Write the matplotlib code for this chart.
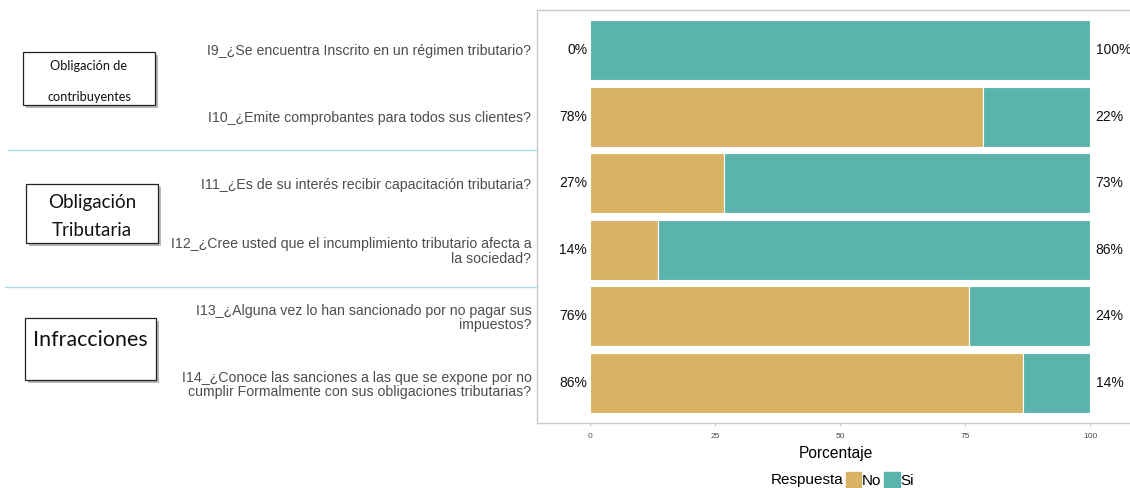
import matplotlib.pyplot as plt
from matplotlib.patches import Rectangle, Patch
import matplotlib.patheffects as pe

plt.rcParams['font.family'] = ['Liberation Sans', 'DejaVu Sans']

preguntas = [
    'I9_¿Se encuentra Inscrito en un régimen tributario?',
    'I10_¿Emite comprobantes para todos sus clientes?',
    'I11_¿Es de su interés recibir capacitación tributaria?',
    'I12_¿Cree usted que el incumplimiento tributario afecta a\nla sociedad?',
    'I13_¿Alguna vez lo han sancionado por no pagar sus\nimpuestos?',
    'I14_¿Conoce las sanciones a las que se expone por no\ncumplir Formalmente con sus obligaciones tributarias?',
]
pct_no = [0, 78.6, 26.8, 13.6, 75.8, 86.6]
pct_si = [100 - v for v in pct_no]
lbl_no = ['0%', '78%', '27%', '14%', '76%', '86%']
lbl_si = ['100%', '22%', '73%', '86%', '24%', '14%']
grupos = ['Obligación de\ncontribuyentes', 'Obligación\nTributaria', 'Infracciones\n ']

c_no = '#D8B365'
c_si = '#5AB4AC'

W, H = 1130, 488
fig = plt.figure(figsize=(W / 100, H / 100), dpi=100)
ax = fig.add_axes([537 / W, 1 - 423 / H, (W - 537) / W, (423 - 10) / H])

y = [len(preguntas) - 1 - i for i in range(len(preguntas))]
ax.barh(y, pct_no, height=0.9, color=c_no, edgecolor='white', linewidth=0.8)
ax.barh(y, pct_si, left=pct_no, height=0.9, color=c_si, edgecolor='white', linewidth=0.8)

for yi, a, b in zip(y, lbl_no, lbl_si):
    ax.annotate(a, (0, yi), xytext=(-2, 0), textcoords='offset points',
                ha='right', va='center', fontsize=10, color='#111111')
    ax.annotate(b, (100, yi), xytext=(4, 0), textcoords='offset points',
                ha='left', va='center', fontsize=10, color='#111111')

# 0 en x=590 px, 100 en x=1090 px
ax.set_xlim(-10.6, 108)
ax.set_ylim(-0.6, len(preguntas) - 0.4)
ax.set_yticks(y)
ax.set_yticklabels(preguntas, fontsize=10.2, color='#4D4D4D', multialignment='right',
                   linespacing=1.02)
ax.tick_params(axis='y', length=0, pad=4)
ax.set_xticks([0, 25, 50, 75, 100])
ax.tick_params(axis='x', labelsize=6, labelcolor='#4D4D4D', color='#CCCCCC', length=2.5, pad=5)
ax.set_xlabel('Porcentaje', fontsize=11.2, labelpad=5)
ax.xaxis.set_label_coords((836 - 537) / (W - 537), -0.055)
for s in ax.spines.values():
    s.set_color('#C8C8C8')
    s.set_linewidth(1)
ax.spines['right'].set_visible(False)

# separadores
for ys, x0 in [(150, 8), (287, 5)]:
    fig.add_artist(plt.Line2D([x0 / W, 537 / W], [1 - ys / H] * 2, color='#A9DCE8', lw=1))

# cajas de grupo: x, y, ancho, alto, tamaño, interlineado, desplazamiento del texto
cajas = [(23, 52, 132, 53, 9.2, 2.9, 3), (26, 184, 132, 59, 13.5, 1.75, 3), (25, 318, 131, 62, 15.4, 1.2, 3)]
for (x0, y0, w, h, fs, ls, dy), txt in zip(cajas, grupos):
    r = Rectangle((x0 / W, 1 - (y0 + h) / H), w / W, h / H, transform=fig.transFigure,
                  facecolor='white', edgecolor='#222222', lw=0.9,
                  path_effects=[pe.SimplePatchShadow(offset=(2, -2), shadow_rgbFace='#888888', alpha=0.6), pe.Normal()])
    fig.add_artist(r)
    fig.text((x0 + w / 2) / W, 1 - (y0 + h / 2 + dy) / H, txt, ha='center', va='center',
             fontsize=fs, family='Lato', linespacing=ls, color='#111111')

# leyenda
fig.text(843 / W, 1 - 480 / H, 'Respuesta', ha='right', va='center', fontsize=11)
fig.legend(handles=[Patch(color=c_no, label='No'), Patch(color=c_si, label='Si')],
           loc='center left', bbox_to_anchor=(846 / W, 1 - 480 / H), ncol=2, frameon=False,
           fontsize=11, handlelength=1.0, handleheight=1.1, handletextpad=0.05,
           columnspacing=0.2, borderpad=0, borderaxespad=0)

fig.savefig('out.png', dpi=100)
